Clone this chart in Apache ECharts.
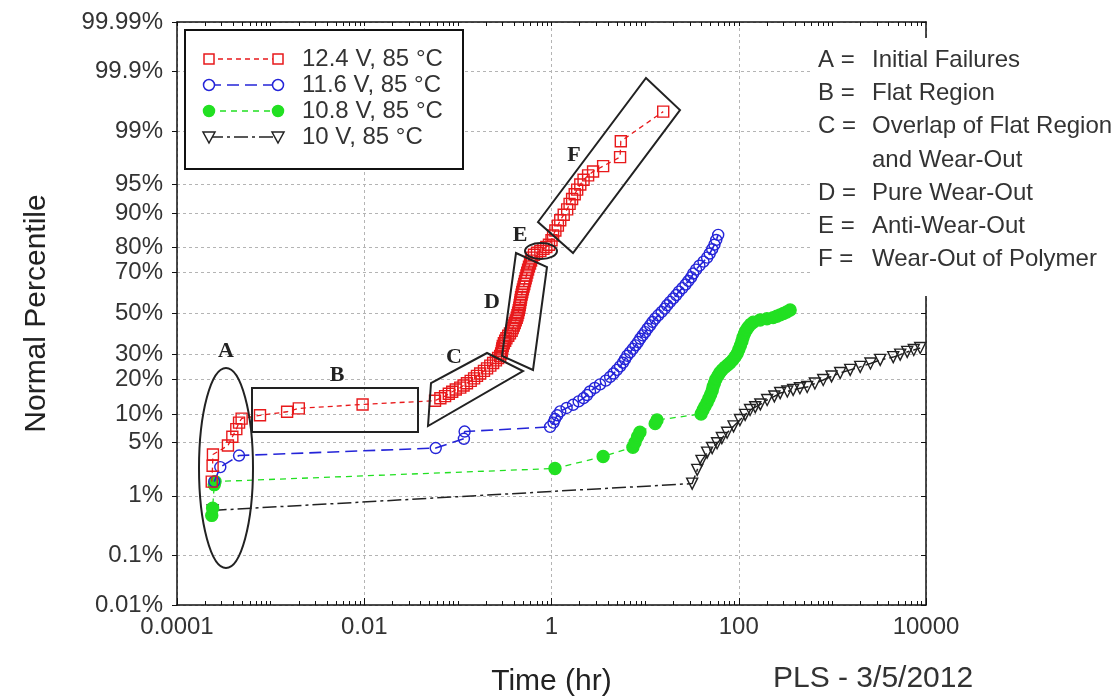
<!DOCTYPE html>
<html>
<head>
<meta charset="utf-8">
<title>Normal Percentile vs Time</title>
<script src="https://cdn.jsdelivr.net/npm/echarts@6.0.0/dist/echarts.min.js"></script>
<style>
html, body { margin: 0; padding: 0; background: #fff; }
#main { width: 1114px; height: 699px; }
</style>
</head>
<body>
<div id="main"></div>
<script>
// [time (hr), cumulative percent]
var red124 = [
  [2.35e-4, 1.6], [2.4e-4, 2.6], [2.42e-4, 3.6], [3.5e-4, 4.6], [3.9e-4, 5.8], [4.3e-4, 7.0], [4.6e-4, 8.2], [4.9e-4, 9.0],
  [7.7e-4, 9.7], [1.5e-3, 10.5], [2.0e-3, 11.3], [9.6e-3, 12.3],
  [0.057, 13.3], [0.065, 14.0], [0.073, 14.6], [0.08, 15.3], [0.087, 15.9], [0.095, 16.6], [0.106, 17.2], [0.115, 17.9],
  [0.125, 18.7], [0.137, 19.5], [0.149, 20.4], [0.16, 21.3], [0.173, 22.2], [0.19, 23.2], [0.205, 24.2], [0.222, 25.3],
  [0.238, 26.4], [0.255, 27.5], [0.269, 28.5], [0.283, 29.4],
  [0.29, 30.5], [0.295, 31.6], [0.298, 32.8], [0.302, 34.0], [0.31, 35.2], [0.32, 36.4], [0.33, 37.6], [0.345, 38.8],
  [0.36, 40.0], [0.375, 41.3], [0.385, 42.6], [0.395, 43.9], [0.405, 45.2], [0.415, 46.5], [0.425, 47.8], [0.433, 49.1],
  [0.44, 50.4], [0.447, 51.7], [0.453, 53.0], [0.458, 54.3], [0.463, 55.6], [0.468, 56.9], [0.473, 58.2], [0.48, 59.5],
  [0.487, 60.8], [0.495, 62.1], [0.503, 63.4], [0.512, 64.7], [0.521, 66.0], [0.53, 67.3], [0.54, 68.6], [0.55, 69.9],
  [0.562, 71.2], [0.575, 72.5], [0.59, 73.8], [0.605, 75.0], [0.62, 76.2],
  [0.65, 77.3], [0.7, 78.1], [0.76, 78.8], [0.82, 79.5], [0.88, 80.2], [0.94, 81.0],
  [1.0, 82.5], [1.04, 84.0], [1.1, 85.5], [1.17, 86.9], [1.24, 88.3], [1.35, 89.6], [1.47, 90.8], [1.56, 91.9],
  [1.66, 92.8], [1.77, 93.6], [1.88, 94.3], [2.03, 95.0], [2.2, 95.6], [2.46, 96.1], [2.78, 96.5], [3.56, 97.0],
  [5.4, 97.7], [5.5, 98.6], [15.6, 99.5]
];
var blue116 = [
  [2.5e-4, 1.6], [2.9e-4, 2.5], [4.6e-4, 3.5], [0.058, 4.3], [0.116, 5.5], [0.118, 6.6],
  [0.966, 7.4], [1.05, 8.2], [1.09, 8.9], [1.15, 9.7], [1.24, 10.6], [1.45, 11.4], [1.7, 12.2], [1.95, 13.1],
  [2.2, 14.0], [2.4, 14.9], [2.58, 16.0], [2.9, 17.1], [3.3, 18.3], [3.8, 19.6], [4.23, 20.9], [4.6, 22.2],
  [5.0, 23.6], [5.4, 25.0], [5.8, 26.5], [6.1, 28.0], [6.43, 29.5], [6.9, 31.0], [7.4, 32.6], [7.9, 34.2],
  [8.4, 35.8], [8.85, 37.4], [9.4, 39.0], [10.0, 40.6], [10.6, 42.3], [11.3, 44.0], [12.0, 45.7], [12.8, 47.4],
  [13.8, 49.1], [15.0, 50.8], [16.2, 52.5], [17.2, 54.2], [18.5, 55.9], [20.0, 57.6], [21.5, 59.3], [23.0, 61.0],
  [25.0, 62.7], [27.0, 64.4], [29.0, 66.1], [31.0, 67.8], [32.6, 69.5], [35.0, 71.2], [38.0, 72.9], [42.0, 74.6],
  [45.9, 76.2], [49.0, 77.8], [52.0, 79.4], [55.0, 81.0], [57.5, 82.6], [60.3, 84.2]
];
var green108 = [
  [2.35e-4, 0.5], [2.4e-4, 0.65], [2.5e-4, 1.45], [2.55e-4, 1.6],
  [1.09, 2.4], [3.56, 3.4], [7.4, 4.4], [7.8, 5.0], [8.3, 5.8], [8.8, 6.5], [12.8, 8.0], [13.4, 8.7],
  [39.6, 10.0], [41.5, 10.9], [43.5, 11.8], [45.9, 12.8], [48, 13.9], [50, 15.0], [52, 16.2], [53.2, 17.5],
  [55, 18.8], [57, 20.1], [60, 21.4], [63, 22.6], [66.5, 23.6], [71, 24.6], [76, 25.6], [81, 26.5],
  [86, 27.6], [91, 28.9], [96, 30.4], [100, 32.2], [104, 34.0], [108, 36.0], [111, 38.0], [115, 39.8],
  [120, 41.5], [126, 43.0], [134, 44.5], [143, 45.6], [169, 46.7], [200, 47.3], [233, 47.9], [255, 48.6],
  [277, 49.3], [300, 50.0], [325, 50.8], [354, 51.8]
];
var black100 = [
  [2.4e-4, 0.6], [31.8, 1.5], [36, 2.3], [40, 3.0], [45.9, 3.8], [52, 4.3], [58.7, 4.9], [66, 5.6],
  [75.1, 6.4], [88, 7.5], [103, 8.7], [117, 9.8], [132, 10.9], [150, 11.6], [170, 12.3], [201, 13.5],
  [240, 14.5], [277, 15.5], [330, 16.0], [381, 16.5], [450, 17.0], [538, 17.4], [650, 18.6], [798, 19.8],
  [980, 21.1], [1211, 22.4], [1550, 23.6], [1983, 24.8], [2550, 26.2], [3243, 27.7], [4467, 28.9], [5300, 30.0],
  [6300, 31.2], [7400, 32.1], [8670, 33.0]
];

var seriesNames = ['12.4 V, 85 \u00b0C', '11.6 V, 85 \u00b0C', '10.8 V, 85 \u00b0C', '10 V, 85 \u00b0C'];
var yTickPercents = [0.01, 0.1, 1, 5, 10, 20, 30, 50, 70, 80, 90, 95, 99, 99.9, 99.99];
var yTickLabels = ['0.01%', '0.1%', '1%', '5%', '10%', '20%', '30%', '50%', '70%', '80%', '90%', '95%', '99%', '99.9%', '99.99%'];
var xTickLabels = ['0.0001', '0.01', '1', '100', '10000'];
var notes = [
  ['A =', 'Initial Failures'],
  ['B =', 'Flat Region'],
  ['C =', 'Overlap of Flat Region'],
  ['', 'and Wear-Out'],
  ['D =', 'Pure Wear-Out'],
  ['E =', 'Anti-Wear-Out'],
  ['F =', 'Wear-Out of Polymer']
];

// inverse of the standard normal CDF (Acklam)
function probit(p) {
  var a = [-3.969683028665376e+01, 2.209460984245205e+02, -2.759285104469687e+02, 1.383577518672690e+02, -3.066479806614716e+01, 2.506628277459239e+00];
  var b = [-5.447609879822406e+01, 1.615858368580409e+02, -1.556989798598866e+02, 6.680131188771972e+01, -1.328068155288572e+01];
  var c = [-7.784894002430293e-03, -3.223964580411365e-01, -2.400758277161838e+00, -2.549732539343734e+00, 4.374664141464968e+00, 2.938163982698783e+00];
  var d = [7.784695709041462e-03, 3.224671290700398e-01, 2.445134137142996e+00, 3.754408661907416e+00];
  var plow = 0.02425, q, r;
  if (p < plow) {
    q = Math.sqrt(-2 * Math.log(p));
    return (((((c[0] * q + c[1]) * q + c[2]) * q + c[3]) * q + c[4]) * q + c[5]) / ((((d[0] * q + d[1]) * q + d[2]) * q + d[3]) * q + 1);
  }
  if (p > 1 - plow) {
    return -probit(1 - p);
  }
  q = p - 0.5; r = q * q;
  return (((((a[0] * r + a[1]) * r + a[2]) * r + a[3]) * r + a[4]) * r + a[5]) * q / (((((b[0] * r + b[1]) * r + b[2]) * r + b[3]) * r + b[4]) * r + 1);
}

var yTickValues = yTickPercents.map(function (p) { return probit(p / 100); });
var minorX = [];
for (var e = -4; e < 4; e++) {
  for (var k = 1; k < 10; k++) minorX.push(e + Math.log10(k));
}

var defs = [
  { name: seriesNames[0], data: red124, color: '#e8191b', dash: [5, 4], width: 1.3, symbol: 'rect', size: 11, fill: 'none', z: 5 },
  { name: seriesNames[1], data: blue116, color: '#2424d8', dash: [12, 6], width: 1.6, symbol: 'circle', size: 11, fill: 'none', z: 4 },
  { name: seriesNames[2], data: green108, color: '#22e022', dash: [6, 5], width: 1.3, symbol: 'circle', size: 12, fill: '#22e022', z: 3 },
  { name: seriesNames[3], data: black100, color: '#222222', dash: [14, 4, 3, 4], width: 1.5, symbol: 'triangle', size: 11, fill: 'none', rotate: 180, z: 2 }
];

var font = '"Liberation Sans", Arial, sans-serif';
var serif = '"Liberation Serif", "Times New Roman", serif';
var ink = '#222';
var grayDot = { color: '#b4b4b4', width: 1, type: [3, 3] };

var g = [];
// legend box
g.push({ type: 'rect', z: 20, shape: { x: 185, y: 30, width: 278, height: 139 }, style: { fill: '#fff', stroke: '#111', lineWidth: 2 } });
defs.forEach(function (s, i) {
  var y = 59 + i * 26;
  g.push({ type: 'line', z: 21, shape: { x1: 209, y1: y, x2: 278, y2: y }, style: { stroke: s.color, lineWidth: s.width, lineDash: s.dash } });
  [209, 278].forEach(function (x) {
    var st = { fill: s.fill === 'none' ? '#fff' : s.fill, stroke: s.color, lineWidth: 1.5 };
    if (s.symbol === 'rect') g.push({ type: 'rect', z: 22, shape: { x: x - 5, y: y - 5, width: 10, height: 10 }, style: st });
    else if (s.symbol === 'circle') g.push({ type: 'circle', z: 22, shape: { cx: x, cy: y, r: 5.5 }, style: st });
    else g.push({ type: 'polygon', z: 22, shape: { points: [[x - 6, y - 5], [x + 6, y - 5], [x, y + 6]] }, style: st });
  });
  g.push({ type: 'text', z: 22, x: 302, y: y, style: { text: s.name, font: '24px ' + font, fill: '#333', verticalAlign: 'middle' } });
});
// notes box
g.push({ type: 'rect', z: 20, shape: { x: 813, y: 38, width: 301, height: 258 }, style: { fill: '#fff' } });
notes.forEach(function (n, i) {
  var y = 60 + i * 33.3;
  g.push({ type: 'text', z: 22, x: 818, y: y, style: { text: n[0], font: '24px ' + font, fill: '#333', verticalAlign: 'middle' } });
  g.push({ type: 'text', z: 22, x: 872, y: y, style: { text: n[1], font: '24px ' + font, fill: '#333', verticalAlign: 'middle' } });
});
// region outlines
var outline = { fill: 'none', stroke: ink, lineWidth: 2 };
g.push({ type: 'ellipse', z: 15, shape: { cx: 226, cy: 468, rx: 27, ry: 100 }, style: outline });
g.push({ type: 'rect', z: 15, shape: { x: 252, y: 388, width: 166, height: 44 }, style: outline });
g.push({ type: 'polygon', z: 15, shape: { points: [[428, 426], [431, 383], [487, 353], [523, 371]] }, style: outline });
g.push({ type: 'polygon', z: 15, shape: { points: [[516, 253], [547, 267], [533, 370], [502, 356]] }, style: outline });
g.push({ type: 'ellipse', z: 15, shape: { cx: 541, cy: 251, rx: 16, ry: 8 }, style: outline });
g.push({ type: 'polygon', z: 15, shape: { points: [[538, 222], [646, 78], [680, 110], [573, 253]] }, style: outline });
[['A', 226, 351], ['B', 337, 375], ['C', 454, 357], ['D', 492, 302], ['E', 520, 235], ['F', 574, 155]].forEach(function (t) {
  g.push({ type: 'text', z: 22, x: t[1], y: t[2], style: { text: t[0], font: 'bold 22px ' + serif, fill: ink, align: 'center', verticalAlign: 'middle' } });
});
g.push({ type: 'text', z: 22, x: 773, y: 679, style: { text: 'PLS - 3/5/2012', font: '30px ' + font, fill: '#333', verticalAlign: 'middle' } });

var chart = echarts.init(document.getElementById('main'));
var option = {
  animation: false,
  backgroundColor: '#fff',
  grid: { left: 177, right: 188, top: 22, bottom: 94, containLabel: false, outerBoundsMode: 'none' },
  xAxis: [
    {
      type: 'log', logBase: 10, min: 1e-4, max: 1e4, interval: 2, position: 'bottom',
      axisLine: { onZero: false, lineStyle: { color: '#111', width: 1.5 } },
      axisTick: { inside: true, length: 7, lineStyle: { color: '#111' } },
      axisLabel: {
        color: '#333', fontSize: 24, fontFamily: font, margin: 10, showMinLabel: true, showMaxLabel: true,
        formatter: function (v) { return xTickLabels[Math.round((Math.log10(v) + 4) / 2)]; }
      },
      splitLine: { show: true, lineStyle: grayDot },
      name: 'Time (hr)', nameLocation: 'middle', nameGap: 62,
      nameTextStyle: { color: ink, fontSize: 30, fontFamily: font }
    },
    {
      type: 'value', min: -4, max: 4, position: 'bottom',
      axisLine: { show: false, onZero: false }, axisLabel: { show: false }, splitLine: { show: false },
      axisTick: { show: true, inside: true, length: 4, customValues: minorX, lineStyle: { color: '#111' } }
    },
    {
      type: 'value', min: -4, max: 4, position: 'top',
      axisLine: { show: true, onZero: false, lineStyle: { color: '#111', width: 1.5 } }, axisLabel: { show: false }, splitLine: { show: false },
      axisTick: { show: true, inside: true, length: 4, customValues: minorX, lineStyle: { color: '#111' } }
    }
  ],
  yAxis: [
    {
      type: 'value', min: yTickValues[0], max: yTickValues[yTickValues.length - 1], position: 'left',
      axisLine: { show: true, onZero: false, lineStyle: { color: '#111', width: 1.5 } },
      axisTick: { show: true, inside: false, length: 5, customValues: yTickValues, lineStyle: { color: '#111' } },
      axisLabel: {
        customValues: yTickValues, color: '#333', fontSize: 24, fontFamily: font, margin: 14,
        formatter: function (v) {
          for (var i = 0; i < yTickValues.length; i++) if (Math.abs(yTickValues[i] - v) < 1e-6) return yTickLabels[i];
          return '';
        }
      },
      splitLine: { show: true, lineStyle: grayDot },
      name: 'Normal Percentile', nameLocation: 'middle', nameGap: 125,
      nameTextStyle: { color: ink, fontSize: 30, fontFamily: font }
    },
    {
      type: 'value', min: yTickValues[0], max: yTickValues[yTickValues.length - 1], position: 'right',
      axisLine: { show: true, onZero: false, lineStyle: { color: '#111', width: 1.5 } },
      axisTick: { show: true, inside: true, length: 5, customValues: yTickValues, lineStyle: { color: '#111' } },
      axisLabel: { show: false }, splitLine: { show: false }
    }
  ],
  series: defs.map(function (s) {
    return {
      name: s.name, type: 'line', xAxisIndex: 0, yAxisIndex: 0, z: s.z,
      data: s.data.map(function (d) { return [d[0], probit(d[1] / 100)]; }),
      symbol: s.symbol, symbolSize: s.size, symbolRotate: s.rotate || 0, showAllSymbol: true,
      lineStyle: { color: s.color, width: s.width, type: s.dash },
      itemStyle: { color: s.fill, borderColor: s.color, borderWidth: 1.4 },
      emphasis: { disabled: true }
    };
  }),
  graphic: { elements: g }
};
chart.setOption(option);
</script>
</body>
</html>
